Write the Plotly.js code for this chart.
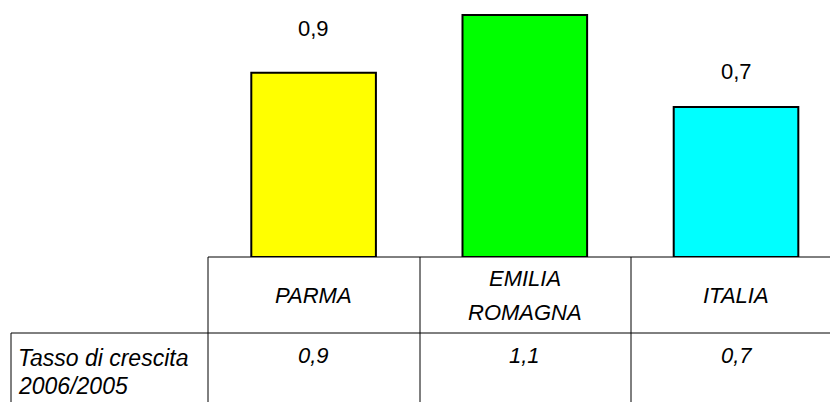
<!DOCTYPE html>
<html>
<head>
<meta charset="utf-8">
<script src="https://cdn.plot.ly/plotly-3.0.1.min.js"></script>
<style>
  html, body { margin: 0; padding: 0; background: #fff; overflow: hidden; }
  #chart { width: 830px; height: 402px; }
</style>
</head>
<body>
<div id="chart"></div>
<script>
// Dati
const categories = ['PARMA', 'EMILIA ROMAGNA', 'ITALIA'];
const values = [0.86, 1.13, 0.70];
const valueLabels = ['0,9', '1,1', '0,7'];
const barColors = ['#ffff00', '#00ff00', '#00ffff'];
const rowLabel = ['Tasso di crescita', '2006/2005'];

// Dimensioni pagina
const W = 830;
const H = 402;
const px = (x) => x / W;
const py = (y) => 1 - y / H;

const FONT = '"Liberation Sans", Arial, sans-serif';
const Y_MAX = 1.2;
const PLOT_H = 257;
const LABEL_SHIFT = 36;

const xIdx = categories.map((c, i) => i);

const trace = {
    x: xIdx,
    y: values,
    type: 'bar',
    width: 0.59,
    marker: {
        color: barColors,
        line: { color: '#000', width: 2 }
    },
    hoverinfo: 'none',
    cliponaxis: false
};

function italic(size) {
    return { family: FONT, size: size, color: '#000', style: 'italic' };
}

const annotations = [];

// Etichette sopra le barre (quella che esce dal grafico non si vede)
valueLabels.forEach((lab, i) => {
    const v = parseFloat(lab.replace(',', '.'));
    if (v / Y_MAX * PLOT_H + LABEL_SHIFT + 12 > PLOT_H) return;
    annotations.push({
        x: i, y: v, xref: 'x', yref: 'y',
        text: lab, showarrow: false,
        yanchor: 'middle', yshift: LABEL_SHIFT,
        font: { family: FONT, size: 22, color: '#000' }
    });
});

// Tabella dati
categories.forEach((cat, i) => {
    const words = cat.split(' ');
    const rowH = 34;
    words.forEach((w, k) => {
        const yc = 295 + (k - (words.length - 1) / 2) * rowH;
        annotations.push({
            x: i, y: py(yc), xref: 'x', yref: 'paper',
            text: w, showarrow: false, yanchor: 'middle',
            font: italic(22)
        });
    });
    annotations.push({
        x: i, y: py(355), xref: 'x', yref: 'paper',
        text: valueLabels[i], showarrow: false, yanchor: 'middle',
        font: italic(22)
    });
});
rowLabel.forEach((t, k) => {
    annotations.push({
        x: px(16), y: py(358 + k * 28), xref: 'paper', yref: 'paper',
        text: t, showarrow: false, xanchor: 'left', yanchor: 'middle',
        font: italic(23)
    });
});

const line = { color: '#000', width: 1 };
const shapes = [
    { type: 'line', xref: 'paper', yref: 'paper', x0: px(208), x1: 1, y0: py(257), y1: py(257), line },
    { type: 'line', xref: 'paper', yref: 'paper', x0: px(11), x1: 1, y0: py(333), y1: py(333), line },
    { type: 'line', xref: 'paper', yref: 'paper', x0: px(11), x1: px(11), y0: py(333), y1: 0, line },
    { type: 'line', xref: 'paper', yref: 'paper', x0: px(208), x1: px(208), y0: py(257), y1: 0, line },
    { type: 'line', xref: 'paper', yref: 'paper', x0: px(420), x1: px(420), y0: py(257), y1: 0, line },
    { type: 'line', xref: 'paper', yref: 'paper', x0: px(631), x1: px(631), y0: py(257), y1: 0, line }
];

const layout = {
    width: W,
    height: H,
    margin: { l: 0, r: 0, t: 0, b: 0 },
    paper_bgcolor: '#fff',
    plot_bgcolor: 'rgba(0,0,0,0)',
    showlegend: false,
    xaxis: {
        domain: [px(208), 1],
        range: [-0.5, 2.445],
        showticklabels: false, showgrid: false, zeroline: false, showline: false, ticks: ''
    },
    yaxis: {
        domain: [py(PLOT_H), 1],
        range: [0, Y_MAX],
        showticklabels: false, showgrid: false, zeroline: false, showline: false, ticks: ''
    },
    annotations,
    shapes
};

Plotly.newPlot('chart', [trace], layout, { staticPlot: true, displayModeBar: false });
</script>
</body>
</html>
